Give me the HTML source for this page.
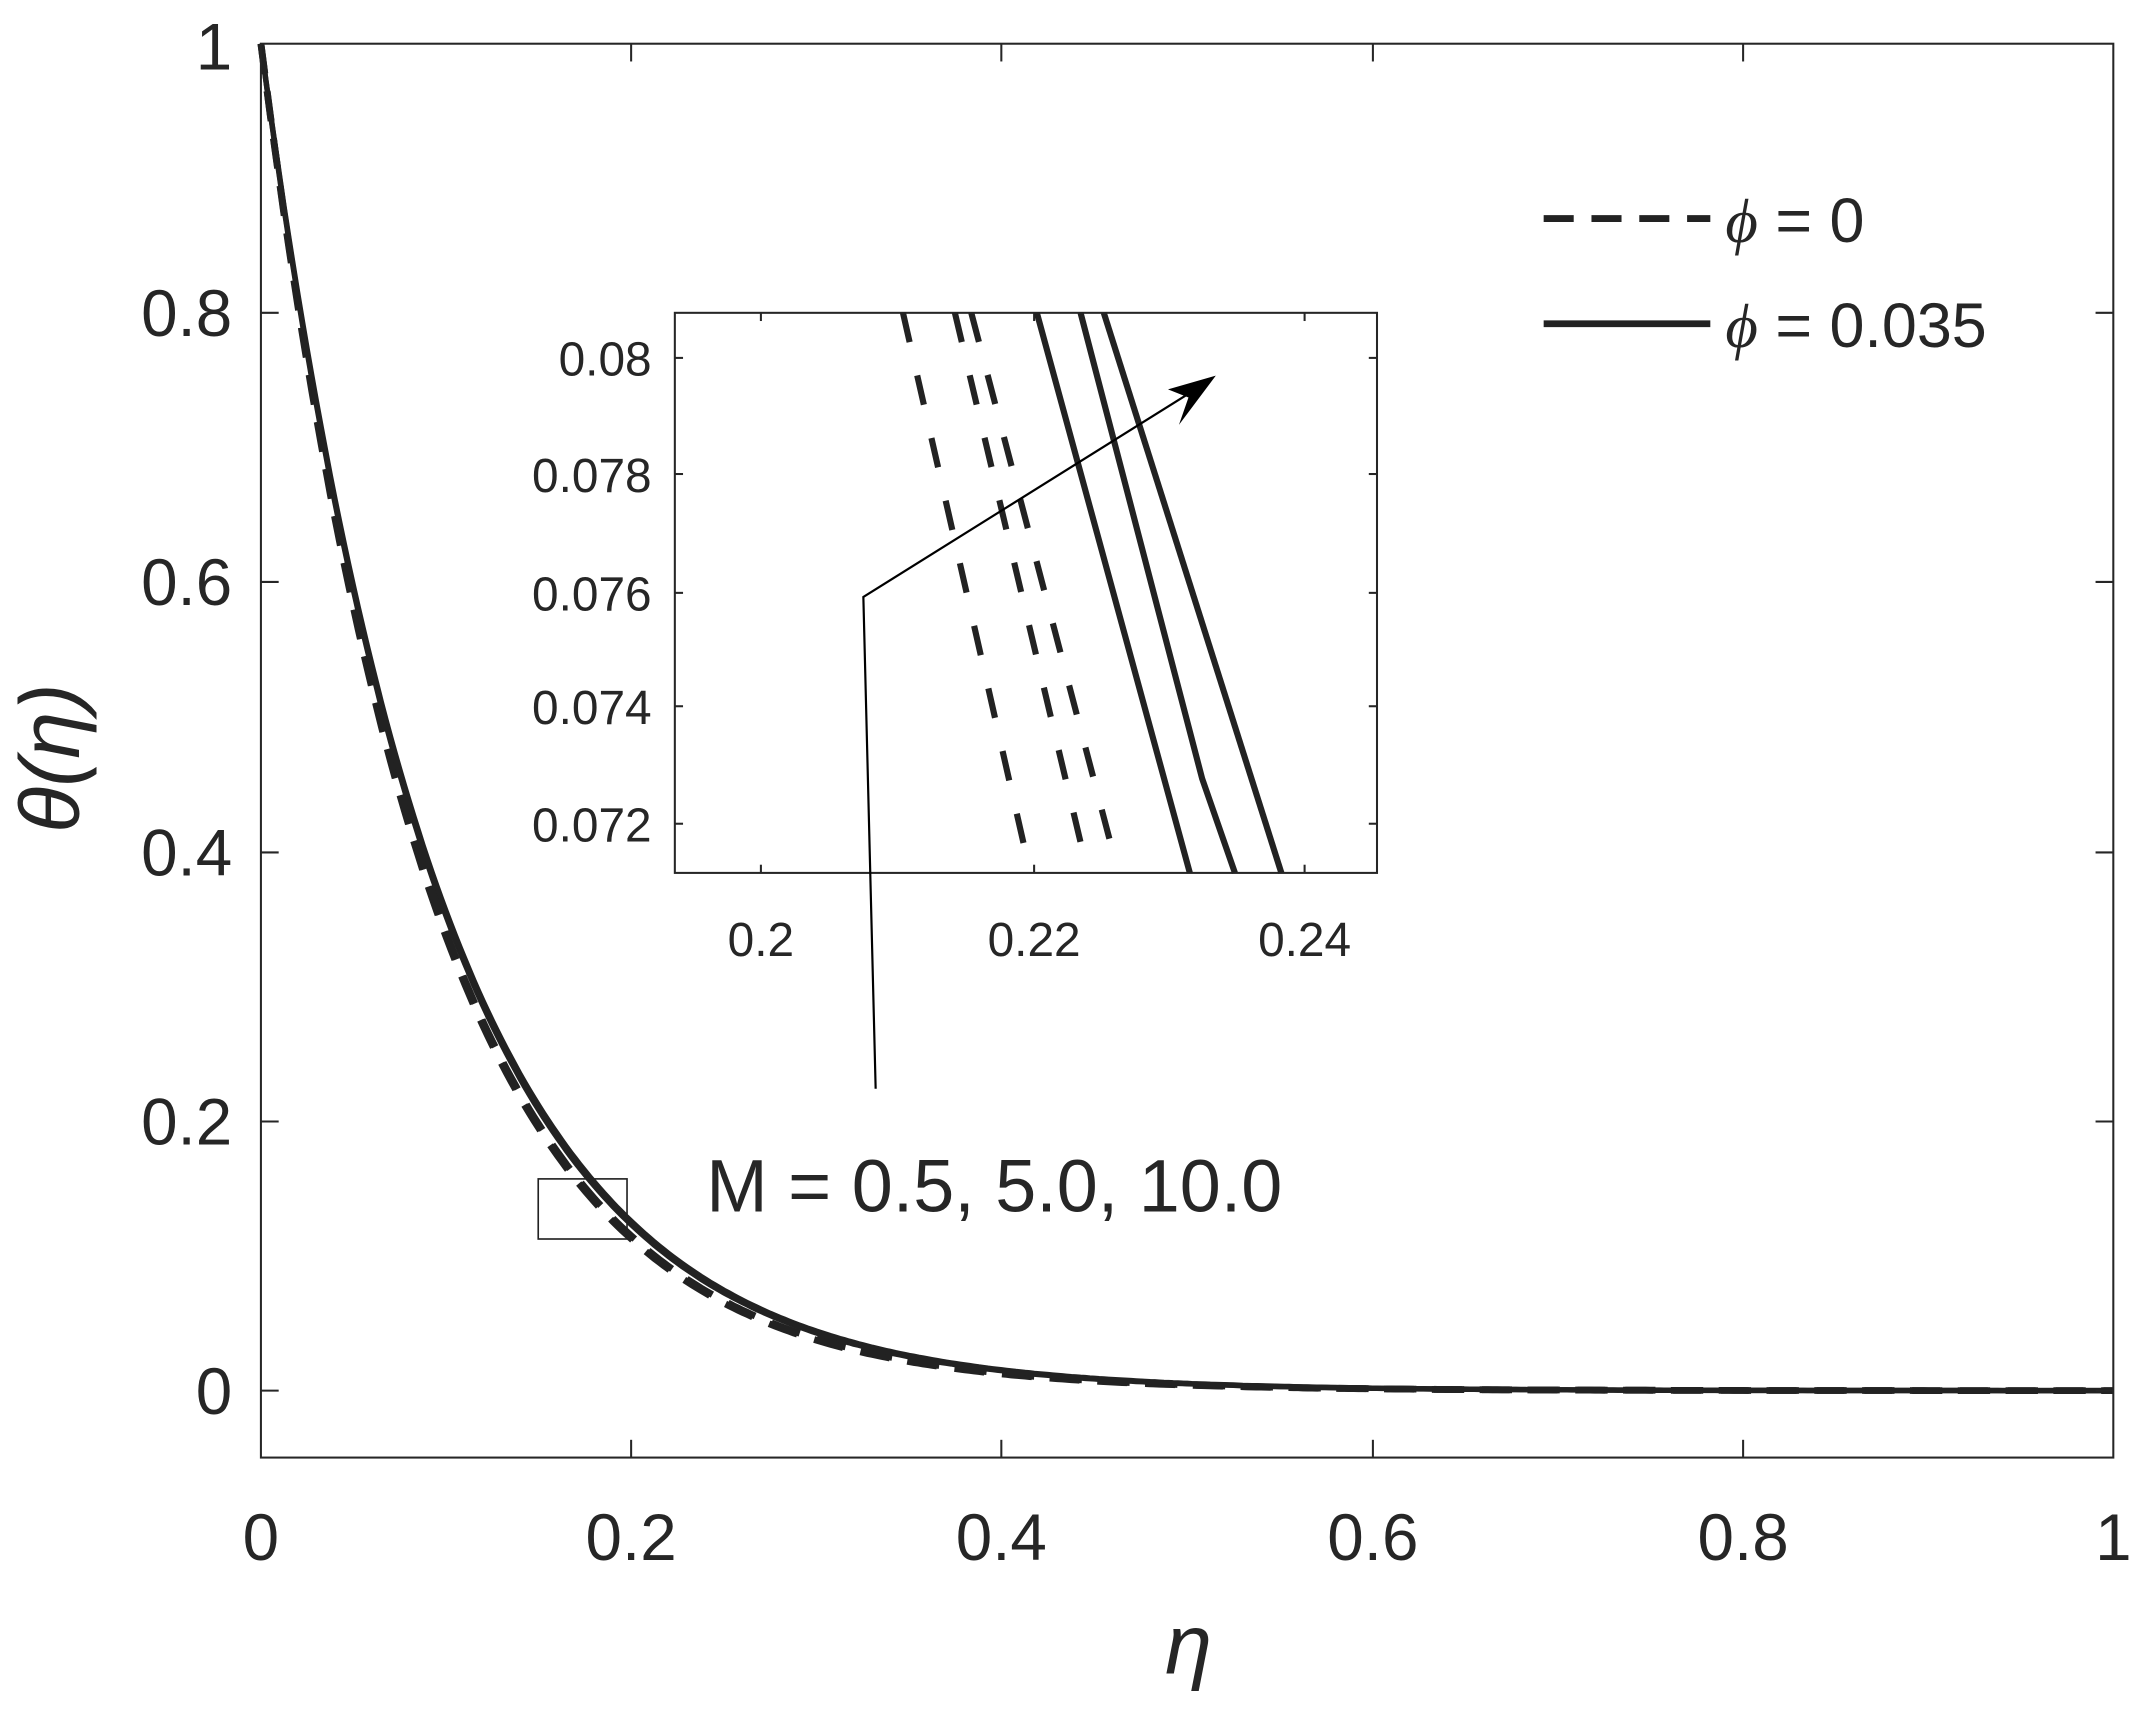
<!DOCTYPE html>
<html><head><style>
html,body{margin:0;padding:0;background:#fff;}
svg{display:block;}
text{font-family:"Liberation Sans",sans-serif;fill:#262626;}
</style></head><body>
<svg id="s" width="2142" height="1726" viewBox="0 0 1568 1263.5" preserveAspectRatio="none" xmlns="http://www.w3.org/2000/svg">
<rect x="0" y="0" width="1568" height="1264" fill="#fff"/>
<g id="curves" fill="none" stroke="#222"></g>
<rect x="191" y="32" width="1356" height="1035" fill="none" stroke="#262626" stroke-width="1.5"/>
<g stroke="#262626" stroke-width="1.5">
<line x1="191" y1="1018" x2="204" y2="1018"/><line x1="1547" y1="1018" x2="1534" y2="1018"/>
<line x1="191" y1="821" x2="204" y2="821"/><line x1="1547" y1="821" x2="1534" y2="821"/>
<line x1="191" y1="624" x2="204" y2="624"/><line x1="1547" y1="624" x2="1534" y2="624"/>
<line x1="191" y1="426" x2="204" y2="426"/><line x1="1547" y1="426" x2="1534" y2="426"/>
<line x1="191" y1="229" x2="204" y2="229"/><line x1="1547" y1="229" x2="1534" y2="229"/>
<line x1="462" y1="1067" x2="462" y2="1054"/><line x1="462" y1="32" x2="462" y2="45"/>
<line x1="733" y1="1067" x2="733" y2="1054"/><line x1="733" y1="32" x2="733" y2="45"/>
<line x1="1005" y1="1067" x2="1005" y2="1054"/><line x1="1005" y1="32" x2="1005" y2="45"/>
<line x1="1276" y1="1067" x2="1276" y2="1054"/><line x1="1276" y1="32" x2="1276" y2="45"/>
</g>
<g font-size="48" text-anchor="end">
<text x="170" y="1035">0</text><text x="170" y="838">0.2</text><text x="170" y="641">0.4</text>
<text x="170" y="443">0.6</text><text x="170" y="246">0.8</text><text x="170" y="51">1</text>
</g>
<g font-size="48" text-anchor="middle">
<text x="191" y="1142">0</text><text x="462" y="1142">0.2</text><text x="733" y="1142">0.4</text>
<text x="1005" y="1142">0.6</text><text x="1276" y="1142">0.8</text><text x="1547" y="1142">1</text>
</g>
<text x="870" y="1225" font-size="62" font-style="italic" font-family="Liberation Serif,serif" text-anchor="middle">η</text>
<text transform="translate(58,555) rotate(-90)" font-size="62" font-style="italic" font-family="Liberation Serif,serif" text-anchor="middle">θ(η)</text>
<rect x="394" y="863" width="65" height="44" fill="none" stroke="#222" stroke-width="1.2"/>
<text x="517" y="887" font-size="54" fill="#111">M = 0.5, 5.0, 10.0</text>
<line x1="1130" y1="160" x2="1252" y2="160" stroke="#222" stroke-width="5" stroke-dasharray="22,13"/>
<text x="1263" y="177" font-size="46"><tspan font-style="italic" font-family="Liberation Serif,serif">ϕ</tspan> = 0</text>
<line x1="1130" y1="237" x2="1252" y2="237" stroke="#222" stroke-width="5"/>
<text x="1263" y="254" font-size="46"><tspan font-style="italic" font-family="Liberation Serif,serif">ϕ</tspan> = 0.035</text>
<rect x="494" y="229" width="514" height="410" fill="#fff" stroke="#262626" stroke-width="1.5"/>
<g stroke="#262626" stroke-width="1.5">
<line x1="557" y1="639" x2="557" y2="633"/><line x1="557" y1="229" x2="557" y2="235"/>
<line x1="757" y1="639" x2="757" y2="633"/><line x1="757" y1="229" x2="757" y2="235"/>
<line x1="955" y1="639" x2="955" y2="633"/><line x1="955" y1="229" x2="955" y2="235"/>
<line x1="494" y1="262" x2="500" y2="262"/><line x1="1008" y1="262" x2="1002" y2="262"/>
<line x1="494" y1="347" x2="500" y2="347"/><line x1="1008" y1="347" x2="1002" y2="347"/>
<line x1="494" y1="434" x2="500" y2="434"/><line x1="1008" y1="434" x2="1002" y2="434"/>
<line x1="494" y1="517" x2="500" y2="517"/><line x1="1008" y1="517" x2="1002" y2="517"/>
<line x1="494" y1="603" x2="500" y2="603"/><line x1="1008" y1="603" x2="1002" y2="603"/>
</g>
<g font-size="35" text-anchor="end">
<text x="477" y="275">0.08</text><text x="477" y="360">0.078</text><text x="477" y="447">0.076</text>
<text x="477" y="530">0.074</text><text x="477" y="616">0.072</text>
</g>
<g font-size="35" text-anchor="middle">
<text x="557" y="700">0.2</text><text x="757" y="700">0.22</text><text x="955" y="700">0.24</text>
</g>
<g fill="none" stroke="#222" stroke-width="4.5">
<g stroke-dasharray="22,25">
<line x1="661" y1="229" x2="751" y2="625"/>
<line x1="699" y1="229" x2="793" y2="625"/>
<line x1="711" y1="229" x2="815" y2="625"/>
</g>
<polyline points="759,229 871,639"/>
<polyline points="791,229 880,570 904,639"/>
<polyline points="808,229 938,639"/>
</g>
<g stroke="#000" stroke-width="1.6" fill="none">
<polyline points="641,797 632,437 872,287"/>
</g>
<polygon points="890,275 863,311 870,291 855,285" fill="#000"/>
<script>
(function(){
var g=document.getElementById('curves');
function path(k,off){var d='';for(var i=0;i<=400;i++){var e=i/400;var t=Math.exp(-k*e)*(1+off*e);var x=191+e*1356,y=1018-t*986;d+=(i?'L':'M')+x.toFixed(1)+','+y.toFixed(1);}return d;}
[11.75,11.65].forEach(function(k){var p=document.createElementNS('http://www.w3.org/2000/svg','path');p.setAttribute('d',path(k,0.9));p.setAttribute('stroke-width','5');p.setAttribute('stroke-dasharray','22,13');g.appendChild(p);});
[11.3,11.2].forEach(function(k){var p=document.createElementNS('http://www.w3.org/2000/svg','path');p.setAttribute('d',path(k,0.9));p.setAttribute('stroke-width','4');g.appendChild(p);});
})();
</script>
</svg>
</body></html>
